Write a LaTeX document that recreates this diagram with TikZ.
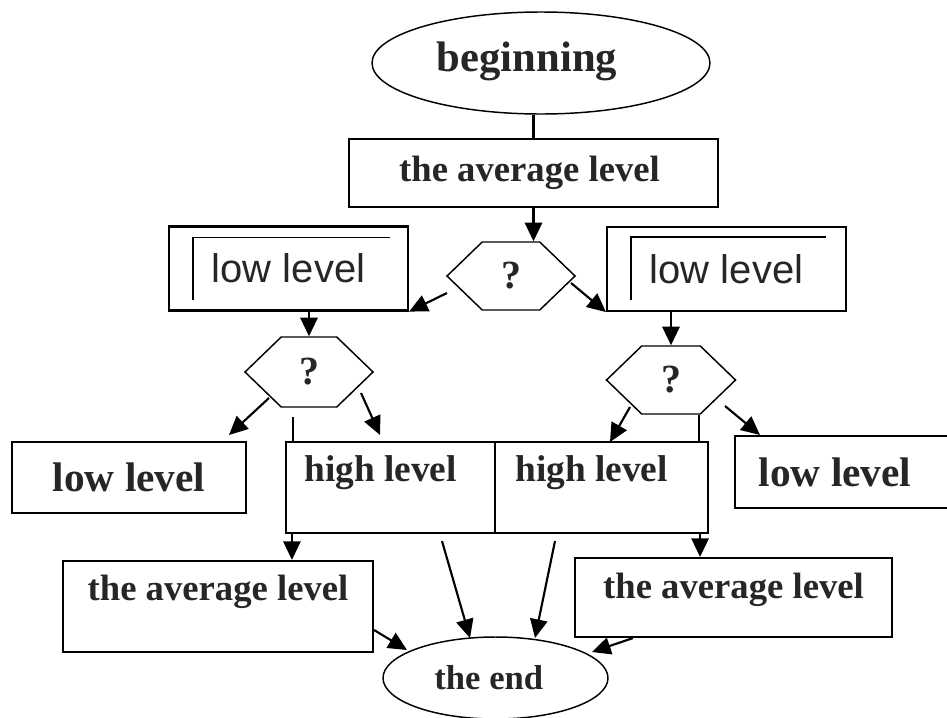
\documentclass[tikz,border=0pt]{standalone}
\usepackage{fontspec}
\setmainfont{Liberation Serif}
\newfontfamily\arialfont{Liberation Sans}
\usetikzlibrary{shapes.geometric,shapes.symbols,arrows.meta,calc}
\definecolor{inkgray}{HTML}{262626}
\begin{document}
\begin{tikzpicture}[x=0.75pt,y=-0.75pt,
	box/.style={draw,line width=1.6pt,inner sep=0pt,text=inkgray},
	oval/.style={draw,ellipse,line width=1.1pt,inner sep=0pt,text=inkgray},
	hexa/.style={draw,signal,signal to=east and west,signal pointer angle=88,line width=1.1pt,inner sep=0pt},
	quest/.style={text=inkgray,font=\fontsize{30}{30}\selectfont\bfseries},
	arr/.style={-{Triangle[length=14pt,width=13pt]},line width=1.6pt},
	plain/.style={line width=1.6pt},
	inset/.style={line width=0.9pt},
	bold/.style={text=inkgray,font=\fontsize{#1}{#1}\selectfont\bfseries}]
	\useasboundingbox (0,0) rectangle (947,718);
	\node[oval,minimum width=253.5pt,minimum height=76.5pt,
		label={[xshift=-10.5pt,yshift=1pt,bold=32]center:beginning}] (beg) at (541,63) {};
	\node[box,minimum width=276.75pt,minimum height=51pt,
		label={[xshift=-3pt,bold=27.5]center:the average level}] (avg) at (533.5,173) {};
	\node[hexa,minimum width=96pt,minimum height=51pt,
		label={[quest]center:?}] (q1) at (511,276) {};
	\node[box,minimum width=179.25pt,minimum height=63pt,font=\arialfont\fontsize{30}{30}\selectfont] (lowL) at (288.5,268.5) {low level};
	\node[box,minimum width=179.25pt,minimum height=63pt,font=\arialfont\fontsize{30}{30}\selectfont] (lowR) at (726.5,269) {low level};
	\node[hexa,minimum width=96pt,minimum height=52.5pt,
		label={[quest]center:?}] (q2) at (309,372) {};
	\node[hexa,minimum width=96.75pt,minimum height=51pt,
		label={[quest]center:?}] (q3) at (671,380) {};
	\node[box,minimum width=175.5pt,minimum height=53.25pt,bold=31] (lowB) at (129,477.5) {low level};
	\node[box,minimum width=156.75pt,minimum height=68.25pt,
		label={[xshift=-7.5pt,yshift=10.9pt,bold=28]center:high level}] (highL) at (390.5,487.5) {};
	\node[box,minimum width=159.75pt,minimum height=68.25pt,
		label={[xshift=-7.5pt,yshift=10.9pt,bold=28]center:high level}] (highR) at (601.5,487.5) {};
	\node[box,minimum width=165pt,minimum height=54pt,
		label={[xshift=-7.5pt,bold=31]center:low level}] (lowRB) at (845,472) {};
	\node[box,minimum width=232.5pt,minimum height=68.25pt,
		label={[yshift=10.9pt,bold=27.5]center:the average level}] (avgL) at (218,606.5) {};
	\node[box,minimum width=237.75pt,minimum height=59.25pt,
		label={[yshift=5.6pt,bold=27.5]center:the average level}] (avgR) at (733.5,597.5) {};
	\node[oval,minimum width=168.75pt,minimum height=61.5pt,
		label={[xshift=-5pt,bold=26]center:the end}] (endn) at (495.5,678) {};
	\draw[inset] ($(lowL.south west)+(25,-12)$) |- ($(lowL.north east)+(-19,12)$);
	\draw[inset] ($(lowR.south west)+(25,-12)$) |- ($(lowR.north east)+(-21,11)$);
	\draw[plain] (avg.north) -- (avg.north |- beg.south);
	\draw[arr] (avg.south) -- (avg.south |- q1.north);
	\draw[arr] ($(q1.west)+(1,17)$) -- (lowL.south east);
	\draw[arr] ($(q1.east)+(-5,7)$) -- (lowR.south west);
	\draw[arr] (lowL.south -| q2.north) -- (q2.north);
	\draw[arr] (lowR.south -| q3.north) -- (q3.north);
	\draw[arr] ($(q2)+(-40,26)$) -- ($(q2)+(-80,63)$);
	\draw[arr] ($(q2)+(52,21)$) -- ($(q2)+(71,63)$);
	\draw[plain] ($(q2)+(-16,45)$) -- ({$(q2)+(-16,45)$} |- highL.north);
	\draw[arr] ($(highL.south west)+(7,0)$) -- ({$(highL.south west)+(7,0)$} |- avgL.north);
	\draw[arr] ($(q3)+(-41,27)$) -- ($(q3)+(-61,62)$);
	\draw[arr] ($(q3)+(54,26)$) -- ($(q3)+(89,55)$);
	\draw[plain] ($(q3)+(28,35)$) -- ({$(q3)+(28,35)$} |- highR.north);
	\draw[arr] ($(highR.south east)+(-9,0)$) -- ({$(highR.south east)+(-9,0)$} |- avgR.north);
	\draw[arr] ($(avgL.east)+(0,23.5)$) -- ($(endn)+(-88.5,-28)$);
	\draw[arr] ($(highL.south)+(51.5,7)$) -- ($(endn)+(-25.5,-40)$);
	\draw[arr] ($(highR.south)+(-46.5,7)$) -- ($(endn)+(39.5,-40)$);
	\draw[arr] ($(avgR.south west)+(59,0)$) -- ($(endn)+(96.5,-26)$);
\end{tikzpicture}
\end{document}
